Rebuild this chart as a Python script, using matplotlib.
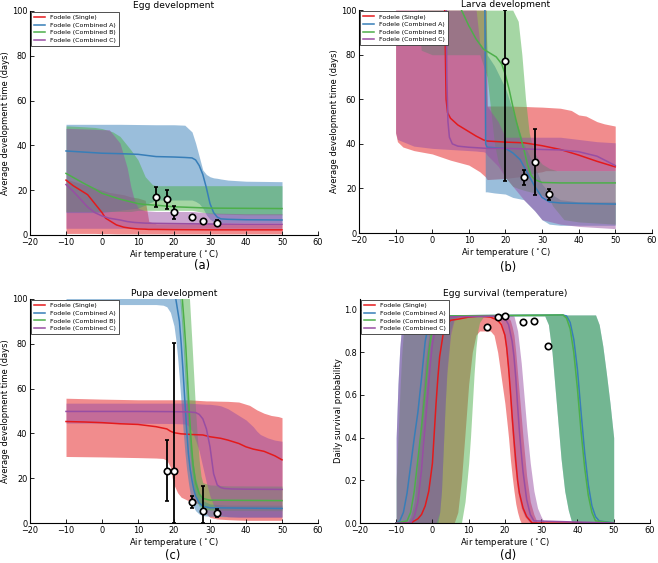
import matplotlib
matplotlib.use("Agg")
import matplotlib.pyplot as plt
import numpy as np

# colours of the four model fits
names = ['Fodele (Single)', 'Fodele (Combined A)', 'Fodele (Combined B)', 'Fodele (Combined C)']
colors = ['#e41a1c', '#377eb8', '#4daf4a', '#984ea3']

################### (a) Egg development ###################
a_red_x = [-10, -8, -6, -4, -2, 0, 1, 2, 4, 6, 8, 10, 12, 13, 15, 20, 30, 40, 50]
a_red_y = [24.5, 22, 20, 18, 14, 10, 7.5, 6.5, 4.5, 3.5, 3, 2.7, 2.6, 2.5, 2.5, 2.4, 2.3, 2.3, 2.3]
a_red_lo = [0.7, 0.7, 0.7, 0.7, 0.7, 0.6, 0.6, 0.6, 0.5, 0.5, 0.5, 0.5, 0.5, 0.5, 0.5, 0.5, 0.5, 0.5, 0.5]
a_red_hi = [25, 24, 23, 22, 21, 20, 19.5, 19, 18.5, 18, 17, 16.5, 15.5, 6, 5, 5, 5, 5, 5]

a_blue_x = [-10, -5, 0, 5, 10, 15, 20, 23, 25, 26, 27, 28, 29, 30, 31, 32, 33, 35, 40, 50]
a_blue_y = [37.5, 37, 36.5, 36.3, 36, 35, 34.8, 34.6, 34.4, 33.5, 31, 27, 21, 14, 10, 8, 7.2, 7, 6.8, 6.7]
a_blue_lo = [10, 10, 10, 11, 12, 15.6, 15.6, 15.6, 15.6, 15, 14, 12, 9, 7, 6, 5.5, 5.5, 5.5, 5.5, 5.5]
a_blue_hi = [49.4, 49.4, 49.4, 49.4, 49.3, 49.2, 49.2, 49, 46, 41, 35, 29, 27, 26, 25.5, 25.3, 25, 24.5, 24, 23.8]

a_green_x = [-10, -5, -2, 0, 3, 5, 8, 10, 12, 14, 15, 20, 25, 30, 40, 50]
a_green_y = [27.5, 23, 20.5, 18.6, 17, 16, 14.8, 14, 13.6, 13.4, 13.3, 12.6, 12.3, 12, 11.9, 11.8]
a_green_lo = [10.5, 10.5, 10.5, 10.5, 10.5, 10.5, 10.5, 11, 11, 11, 11, 11, 11, 9.5, 9, 9]
a_green_hi = [48.7, 48.3, 48, 47.5, 46, 44, 38, 33.5, 26, 22.5, 22, 22, 22, 22, 22, 22]

a_purple_x = [-10, -8, -6, -4, -2, 0, 2, 5, 7, 8, 9, 10, 12, 15, 25, 30, 40, 50]
a_purple_y = [22.5, 19.5, 16, 12.5, 10, 8.5, 7.5, 6.7, 6, 5.8, 5.6, 5.5, 5.3, 5.2, 5, 4.9, 4.8, 4.8]
a_purple_lo = [3, 3, 3, 3, 3, 3, 3, 3, 3, 3, 3, 3, 3, 3, 3, 3, 3, 3]
a_purple_hi = [47.6, 47.5, 47.4, 47.3, 47.2, 47, 47, 41, 30, 21.6, 15.6, 12, 10.8, 10.5, 10.5, 9.8, 9.5, 9.5]

a_obs_x = [15, 18, 20, 25, 28, 32]
a_obs_y = [17.1, 15.9, 10.1, 7.9, 6.4, 5.5]
a_obs_lo = [12.6, 11.4, 7.0, 7.9, 6.4, 4.5]
a_obs_hi = [21.5, 20.0, 12.9, 7.9, 6.4, 6.5]

################### (b) Larva development ###################
b_red_x = [3.4, 3.6, 3.8, 4.2, 5, 7, 10, 12, 14, 15, 20, 25, 27, 30, 35, 40, 45, 50]
b_red_y = [100, 80, 60, 54, 51.5, 48.5, 45.5, 43.5, 41.8, 41.3, 40.8, 40.5, 40, 39.2, 37.5, 35, 32.2, 29.7]
b_red_band_x = [-10, -9.5, -8, -5, 0, 5, 10, 13, 14.5, 14.8, 15, 20, 25, 28, 30, 31, 32, 35, 38, 40, 42, 45, 47, 50]
b_red_lo = [45, 41, 38.6, 37, 35.5, 32.7, 30.5, 27.5, 25.3, 24.5, 24, 24.5, 25.5, 27, 27.5, 28, 28, 28, 28, 28, 28, 28, 28, 28]
b_red_hi = [100, 100, 100, 100, 100, 100, 100, 100, 100, 100, 57, 57, 56.8, 56.6, 56.5, 56.4, 56.3, 56, 55, 53, 52.5, 50, 49, 48]

b_blue_x = [14.4, 14.6, 15, 20, 22, 24, 25, 26, 27, 28, 30, 32, 35, 50]
b_blue_y = [100, 40, 38.5, 38, 36, 33, 30, 27, 24, 21, 16, 14, 13.5, 13]
b_blue_band_x = [14.4, 14.5, 15, 17, 20, 22, 25, 28, 30, 32, 35, 40, 50]
b_blue_lo = [100, 18.5, 18.5, 18, 17.5, 16, 15, 10, 6, 4, 3.5, 3.5, 3.5]
b_blue_hi = [100, 100, 80, 75, 65, 55, 40, 30, 22, 18, 15, 14, 14]

b_green_x = [8, 10, 12, 14, 16, 17.5, 19, 20, 21, 22, 23, 24, 25, 26, 27, 28, 30, 35, 50]
b_green_y = [100, 93, 87, 82.5, 80.5, 79, 75.8, 71, 64.6, 57, 50, 43.8, 37.9, 31, 26, 24, 22.7, 22.5, 22.5]
b_green_band_x = [-4, -3, 0, 5, 10, 13, 15, 16, 17, 18, 20, 22, 23.5, 24.5, 25.5, 26.5, 27.5, 28, 29, 30, 31,
                  32, 33, 34, 36, 40, 50]
b_green_lo = [100, 82, 80, 80, 80, 80, 70, 55, 40, 32, 25, 21, 20, 19.5, 19, 18.6, 18.2, 18, 17.5, 17, 16,
              15, 12, 10, 6, 5, 4]
b_green_hi = [100, 100, 100, 100, 100, 100, 100, 100, 100, 100, 100, 100, 95, 80, 60, 45, 38, 36, 33, 31,
              30, 29, 28.5, 28, 28, 28, 28]

b_purple_x = [3.8, 4.0, 4.3, 4.7, 5.5, 7, 10, 15, 20, 30, 35, 40, 45, 48, 50]
b_purple_y = [100, 70, 50, 43, 40, 39, 38.5, 38, 38, 37.5, 37.3, 36.5, 34.5, 32, 30.3]
b_purple_band_x = [-10, -9.5, -5, 0, 5, 10, 12, 13, 14, 14.5, 15, 18, 20, 25, 28, 30, 35, 40, 45, 50]
b_purple_lo = [45, 42, 39, 38, 37.5, 37, 36.8, 36.6, 36.5, 36.2, 35, 30, 25, 15, 10, 6, 4, 3, 2.5, 2]
b_purple_hi = [100, 100, 100, 100, 100, 100, 100, 85, 82, 80, 57, 50, 43, 43, 43, 43, 43, 42, 41, 40.5]

b_obs_x = [20, 25, 28, 32]
b_obs_y = [77, 25, 32, 17.4]
b_obs_lo = [23.5, 21.5, 17.1, 14.9]
b_obs_hi = [100, 28.5, 46.8, 19.8]

################### (c) Pupa development ###################
c_red_x = [-10, -5, 0, 5, 10, 15, 18, 19, 20, 22, 25, 28, 30, 33, 35, 38, 40, 42, 45, 48, 50]
c_red_y = [45.3, 45.1, 44.8, 44.3, 44, 43, 42, 41, 40.3, 39.8, 39.5, 39.3, 38.5, 37.8, 37, 35.5, 34, 33, 32, 30, 28.2]
c_red_band_x = [-10, 0, 10, 15, 17, 18, 19, 19.5, 20, 21, 22, 24, 26, 27, 28, 29, 30, 32, 35, 38, 40, 41, 42, 43, 45, 47, 49, 50]
c_red_lo = [29.7, 29.5, 29.2, 29, 28.8, 28, 25, 20, 17, 13.5, 11.5, 10, 9, 8.5, 7, 4, 2.5, 1.8, 1.5, 1.3,
            1.2, 1.2, 1.2, 1.2, 1.2, 1.2, 1.2, 1.2]
c_red_hi = [55.7, 55.3, 55, 55, 55, 55, 55, 55, 55, 55, 55, 55, 54.8, 54.7, 54.6, 54.5, 54.5, 54.4, 54.3, 54,
            53, 52.5, 51.5, 50.5, 49, 48, 47.5, 47]

c_blue_x = [20.2, 20.5, 21.5, 22, 22.5, 23, 23.5, 24, 24.5, 25, 25.5, 26, 27, 28, 30, 50]
c_blue_y = [102, 100, 90, 80, 68, 55, 42, 31, 24, 19, 15, 12, 9, 7.5, 6.8, 6.5]
c_blue_band_x = [-10, 15, 17, 18, 19, 20, 20.5, 21, 21.5, 22, 22.5, 23, 23.5, 24, 24.5, 25, 25.5, 26, 27, 28, 30, 35, 50]
c_blue_lo = [97.5, 97.5, 97.2, 96.5, 94, 88, 82, 74, 64, 53, 42, 32, 24, 18, 13, 9, 7, 5.5, 4, 3.3, 3, 2.8, 2.8]
c_blue_hi = [102, 102, 102, 102, 102, 102, 102, 102, 102, 98, 88, 75, 62, 50, 40, 31, 25, 20, 14, 10, 8.5, 8, 8]

c_green_x = [22.3, 22.8, 23.3, 23.8, 24.3, 24.8, 25.3, 26, 27, 28, 30, 50]
c_green_y = [100, 90, 78, 63, 48, 36, 26, 18, 13, 11, 10.2, 10]
c_green_band_x = [21.5, 22, 22.5, 23, 23.5, 24.3, 25, 25.5, 26, 26.5, 27, 27.5, 28, 30, 35, 50]
c_green_lo = [102, 92, 80, 65, 52, 33, 22, 16, 12, 9, 7.5, 6.8, 6.3, 5.8, 5.6, 5.5]
c_green_hi = [102, 102, 102, 102, 102, 100, 80, 65, 50, 38, 28, 21, 18, 17, 16.6, 16.5]

c_purple_x = [-10, 0, 10, 20, 24, 26, 27, 28, 29, 30, 31, 32, 33, 34, 36, 40, 50]
c_purple_y = [49.8, 49.8, 49.8, 49.7, 49.6, 49.3, 48.5, 46.5, 42, 34, 22, 17, 15.8, 15.4, 15.2, 15.1, 15]
c_purple_band_x = [-10, 0, 10, 20, 23, 24, 25, 26, 27, 28, 29, 30, 31, 32, 33, 35, 38, 40, 42, 43, 44, 46, 48, 50]
c_purple_lo = [44.6, 44.6, 44.5, 44.4, 44.2, 43.5, 41, 37, 32, 25, 18, 12, 8, 5, 3.5, 2.8, 2.5, 2.5, 2.5, 2.5,
               2.5, 2.5, 2.5, 2.5]
c_purple_hi = [53.5, 53.5, 53.5, 53.5, 53.5, 53.5, 53.4, 53.3, 53.2, 53.1, 53, 53, 52.8, 52.6, 52.3, 51, 48,
               46, 43, 41, 39.5, 38, 37, 36.5]

c_obs_x = [18, 20, 25, 28, 32]
c_obs_y = [23.3, 23.0, 9.4, 5.2, 4.5]
c_obs_lo = [9.7, 0, 6.7, 0, 2.7]
c_obs_hi = [37.1, 80.2, 12.2, 16.6, 6.2]

################### (d) Egg survival (temperature) ###################
d_red_x = [-10, -6, -5, -4, -3, -2, -1, 0, 0.5, 1, 1.5, 2, 3, 4, 5, 7, 10, 13, 16, 18, 19, 20, 20.5, 21,
           21.5, 22, 22.5, 23, 23.5, 24, 25, 26, 27.5, 50]
d_red_y = [0, 0, 0.01, 0.02, 0.04, 0.08, 0.15, 0.28, 0.42, 0.56, 0.68, 0.78, 0.89, 0.93, 0.95, 0.955, 0.965,
           0.97, 0.965, 0.95, 0.93, 0.88, 0.82, 0.73, 0.62, 0.5, 0.39, 0.29, 0.2, 0.14, 0.07, 0.03, 0, 0]
d_red_band_x = [-10, -7, -6, -5, -4, -3, -2, -1, 0, 1, 3, 6, 7, 8, 9, 10, 11, 12, 13, 16, 17, 18, 19, 20,
                20.7, 21, 21.5, 22, 22.5, 23, 23.5, 24, 24.5, 25, 26, 27, 28, 29, 50]
d_red_lo = [0, 0, 0, 0, 0, 0, 0, 0, 0, 0, 0, 0, 0.05, 0.2, 0.42, 0.65, 0.8, 0.88, 0.9, 0.9, 0.88, 0.8, 0.68,
            0.56, 0.45, 0.4, 0.3, 0.22, 0.15, 0.09, 0.05, 0.02, 0, 0, 0, 0, 0, 0, 0]
d_red_hi = [0, 0, 0.03, 0.1, 0.3, 0.55, 0.75, 0.88, 0.94, 0.96, 0.97, 0.975, 0.975, 0.975, 0.975, 0.975,
            0.975, 0.975, 0.975, 0.975, 0.975, 0.975, 0.975, 0.97, 0.965, 0.96, 0.95, 0.92, 0.88, 0.8,
            0.7, 0.6, 0.5, 0.4, 0.22, 0.1, 0.04, 0, 0]

d_blue_x = [-10, -9, -8, -7, -6, -5, -4, -3, -2, -1, 0, 36, 37, 38, 39, 40, 41, 42, 43, 44, 45, 46, 50]
d_blue_y = [0, 0.01, 0.05, 0.14, 0.27, 0.4, 0.52, 0.68, 0.85, 0.94, 0.97, 0.975, 0.97, 0.94, 0.86, 0.72,
            0.52, 0.33, 0.18, 0.08, 0.03, 0.01, 0]
d_blue_band_x = [-10, -9.5, -9, -8.5, -8, -7, 1.5, 2, 2.5, 3, 3.5, 4, 5, 6, 7, 31, 32, 33, 34, 34.5, 35.5,
                 36.5, 37.5, 38.5, 45, 46, 47, 48, 49, 50]
d_blue_lo = [0, 0, 0, 0, 0, 0, 0, 0.05, 0.15, 0.35, 0.55, 0.72, 0.9, 0.96, 0.97, 0.97, 0.93, 0.8, 0.6,
             0.5, 0.3, 0.15, 0.06, 0, 0, 0, 0, 0, 0, 0]
d_blue_hi = [0.4, 0.65, 0.82, 0.92, 0.96, 0.975, 0.975, 0.975, 0.975, 0.975, 0.975, 0.975, 0.975, 0.975,
             0.975, 0.975, 0.975, 0.975, 0.975, 0.975, 0.975, 0.975, 0.975, 0.975, 0.975, 0.93, 0.83,
             0.7, 0.56, 0.4]

d_green_x = [-10, -7, -6, -5, -4, -3, -2, -1, 0, 1, 36, 37, 38, 39, 40, 41, 42, 43, 44, 45, 50]
d_green_y = [0, 0.01, 0.05, 0.15, 0.3, 0.45, 0.62, 0.8, 0.92, 0.97, 0.975, 0.96, 0.91, 0.8, 0.63, 0.43,
             0.26, 0.13, 0.05, 0.01, 0]
d_green_band_x = [-10, -9.5, -9, -8.5, -8, -7, 8, 9, 10, 10.5, 11, 11.5, 12, 12.5, 13, 14, 15, 31, 32, 33,
                  34, 34.5, 35.5, 36.5, 37.5, 38.5, 45, 46, 47, 48, 49, 50]
d_green_lo = [0, 0, 0, 0, 0, 0, 0, 0.1, 0.28, 0.4, 0.55, 0.7, 0.82, 0.9, 0.94, 0.965, 0.97, 0.97, 0.93,
              0.8, 0.6, 0.5, 0.3, 0.15, 0.06, 0, 0, 0, 0, 0, 0, 0]
d_green_hi = [0.2, 0.4, 0.6, 0.78, 0.9, 0.97, 0.975, 0.975, 0.975, 0.975, 0.975, 0.975, 0.975, 0.975,
              0.975, 0.975, 0.975, 0.975, 0.975, 0.975, 0.975, 0.975, 0.975, 0.975, 0.975, 0.975, 0.975,
              0.93, 0.83, 0.7, 0.56, 0.4]

d_purple_x = [-10, -6, -5, -4, -3, -2.5, -2, -1.5, -1, -0.5, 0, 1, 2, 18, 20, 21, 22, 22.5, 23, 23.5, 24,
              24.5, 25, 26, 27, 28, 50]
d_purple_y = [0, 0, 0.03, 0.1, 0.25, 0.36, 0.46, 0.56, 0.66, 0.76, 0.84, 0.93, 0.965, 0.97, 0.96, 0.93,
              0.85, 0.78, 0.68, 0.55, 0.43, 0.33, 0.24, 0.11, 0.04, 0.01, 0]
d_purple_band_x = [-10, -9.5, -9, -8.5, -8, -7, 1, 2, 2.5, 3, 3.5, 4, 5, 6, 7, 18, 19, 20, 21, 21.6, 22.5,
                   23.5, 24.5, 25.5, 26, 27, 28, 29, 30, 31, 50]
d_purple_lo = [0, 0, 0, 0, 0, 0, 0, 0.05, 0.15, 0.35, 0.55, 0.7, 0.88, 0.95, 0.965, 0.965, 0.94, 0.85,
               0.68, 0.5, 0.3, 0.15, 0.07, 0.03, 0.02, 0, 0, 0, 0, 0, 0]
d_purple_hi = [0.4, 0.65, 0.82, 0.92, 0.96, 0.975, 0.975, 0.975, 0.975, 0.975, 0.975, 0.975, 0.975, 0.975,
               0.975, 0.975, 0.975, 0.975, 0.975, 0.975, 0.97, 0.9, 0.75, 0.55, 0.45, 0.28, 0.15, 0.07,
               0.03, 0, 0]

d_obs_x = [15, 18, 20, 25, 28, 32]
d_obs_y = [0.92, 0.965, 0.968, 0.94, 0.948, 0.83]

################### 画图 ###################
fig = plt.figure(figsize=(6.58, 5.63), dpi=100)

FS_TICK = 5.9
FS_LAB = 6.0


def style_axes(ax, title, ylabel, ylim):
    ax.set_xlim(-20, 60)
    ax.set_ylim(*ylim)
    ax.spines['top'].set_visible(False)
    ax.spines['right'].set_visible(False)
    for s in ['left', 'bottom']:
        ax.spines[s].set_linewidth(0.8)
    ax.tick_params(direction='in', length=3, width=0.6, labelsize=FS_TICK, pad=2,
                   top=False, right=False)
    ax.set_title(title, fontsize=6.6, pad=2)
    ax.set_xlabel(r'Air temperature ($^\circ$C)', fontsize=FS_LAB, labelpad=1)
    ax.set_ylabel(ylabel, fontsize=FS_LAB, labelpad=1)
    leg = ax.legend(loc='upper left', fontsize=4.5, handlelength=1.8, labelspacing=0.35,
                    borderaxespad=0.15, fancybox=False, edgecolor='#333333', framealpha=1,
                    borderpad=0.5)
    leg.get_frame().set_linewidth(0.6)


def draw_panel(ax, series, obs):
    for (bx, lo, hi, lx, ly), c in zip(series, colors):
        ax.fill_between(bx, lo, hi, color=c, alpha=0.5, lw=0)
    for (bx, lo, hi, lx, ly), c, n in zip(series, colors, names):
        ax.plot(lx, ly, color=c, lw=1.1, label=n)
    ox, oy, olo, ohi = obs
    if olo is None:
        ax.plot(ox, oy, 'o', mfc='white', mec='black', mew=1.2, ms=4.6, zorder=5)
    else:
        yerr = [np.array(oy) - np.array(olo), np.array(ohi) - np.array(oy)]
        ax.errorbar(ox, oy, yerr=yerr, fmt='o', mfc='white', mec='black', mew=1.2, ms=4.6,
                    ecolor='black', elinewidth=1.3, capsize=1.5, capthick=1, zorder=5)


ax_a = fig.add_axes([0.0456, 0.5826, 0.4377, 0.398])
draw_panel(ax_a, [
    (a_red_x, a_red_lo, a_red_hi, a_red_x, a_red_y),
    (a_blue_x, a_blue_lo, a_blue_hi, a_blue_x, a_blue_y),
    (a_green_x, a_green_lo, a_green_hi, a_green_x, a_green_y),
    (a_purple_x, a_purple_lo, a_purple_hi, a_purple_x, a_purple_y),
], (a_obs_x, a_obs_y, a_obs_lo, a_obs_hi))
style_axes(ax_a, 'Egg development', 'Average development time (days)', (0, 100))

ax_b = fig.add_axes([0.5456, 0.586, 0.445, 0.396])
draw_panel(ax_b, [
    (b_red_band_x, b_red_lo, b_red_hi, b_red_x, b_red_y),
    (b_blue_band_x, b_blue_lo, b_blue_hi, b_blue_x, b_blue_y),
    (b_green_band_x, b_green_lo, b_green_hi, b_green_x, b_green_y),
    (b_purple_band_x, b_purple_lo, b_purple_hi, b_purple_x, b_purple_y),
], (b_obs_x, b_obs_y, b_obs_lo, b_obs_hi))
style_axes(ax_b, 'Larva development', 'Average development time (days)', (0, 100))

ax_c = fig.add_axes([0.0456, 0.071, 0.4377, 0.398])
draw_panel(ax_c, [
    (c_red_band_x, c_red_lo, c_red_hi, c_red_x, c_red_y),
    (c_blue_band_x, c_blue_lo, c_blue_hi, c_blue_x, c_blue_y),
    (c_green_band_x, c_green_lo, c_green_hi, c_green_x, c_green_y),
    (c_purple_band_x, c_purple_lo, c_purple_hi, c_purple_x, c_purple_y),
], (c_obs_x, c_obs_y, c_obs_lo, c_obs_hi))
style_axes(ax_c, 'Pupa development', 'Average development time (days)', (0, 100))

ax_d = fig.add_axes([0.547, 0.071, 0.4407, 0.398])
draw_panel(ax_d, [
    (d_red_band_x, d_red_lo, d_red_hi, d_red_x, d_red_y),
    (d_blue_band_x, d_blue_lo, d_blue_hi, d_blue_x, d_blue_y),
    (d_green_band_x, d_green_lo, d_green_hi, d_green_x, d_green_y),
    (d_purple_band_x, d_purple_lo, d_purple_hi, d_purple_x, d_purple_y),
], (d_obs_x, d_obs_y, None, None))
style_axes(ax_d, 'Egg survival (temperature)', 'Daily survival probability', (0, 1.05))
ax_d.set_yticks([0.0, 0.2, 0.4, 0.6, 0.8, 1.0])

# 子图标号
for lab, px, py in [('(a)', 202, 266), ('(b)', 508, 267), ('(c)', 173, 556), ('(d)', 508, 556)]:
    fig.text(px / 658, 1 - py / 563, lab, fontsize=8.3, ha='center', va='center')

fig.savefig('out.png', dpi=100)
